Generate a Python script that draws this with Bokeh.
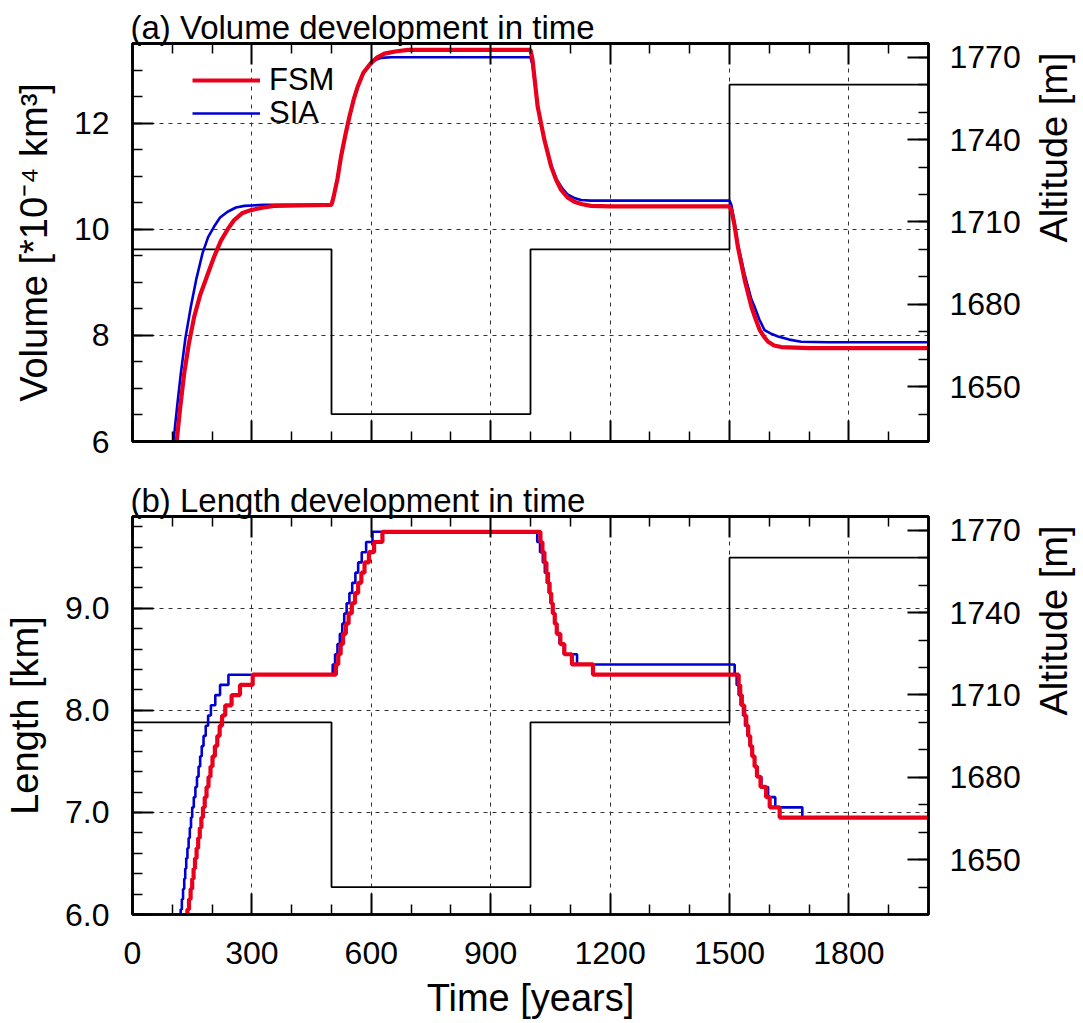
import math
from bokeh.plotting import figure
from bokeh.models import Range1d, LinearAxis, FixedTicker, Legend, LegendItem, NumeralTickFormatter
from bokeh.layouts import column
from bokeh.embed import file_html
from bokeh.resources import INLINE

# ---------------- data ----------------
# prescribed altitude forcing (right axis, m)
alt_time = [0, 500, 1000, 1500, 2000]
alt_value = [1700, 1640, 1700, 1760, 1760]

# (a) volume, *10^-4 km^3
vol_fsm_t = [111, 120, 130, 142, 155, 170, 189, 205, 222, 240, 255, 275, 297, 330, 356, 420, 500,
             505, 515, 524, 535, 545, 556, 566, 580, 599, 615, 633, 660, 692, 750, 1000,
             1005, 1018, 1035, 1052, 1065, 1077, 1093, 1110, 1130, 1152, 1200, 1500,
             1505, 1512, 1521, 1538, 1555, 1566, 1576, 1587, 1597, 1612, 1630, 1700, 2000]
vol_fsm_v = [6.0, 6.65, 7.29, 7.86, 8.35, 8.76, 9.15, 9.48, 9.78, 10.01, 10.17, 10.30, 10.36, 10.41, 10.44, 10.45, 10.46,
             10.6, 10.95, 11.37, 11.78, 12.12, 12.45, 12.69, 12.95, 13.13, 13.24, 13.31, 13.35, 13.38, 13.38, 13.38,
             13.2, 12.31, 11.68, 11.18, 10.92, 10.74, 10.60, 10.52, 10.47, 10.44, 10.43, 10.43,
             10.35, 10.1, 9.67, 9.05, 8.54, 8.30, 8.10, 7.97, 7.88, 7.81, 7.78, 7.76, 7.76]

vol_sia_t = [103, 112, 121.5, 133, 146.6, 160, 176, 190, 205, 220, 239, 260, 281, 330, 500,
             505, 515, 524, 535, 545, 556, 566, 580, 595, 610, 625, 650, 700, 1000,
             1005, 1018, 1035, 1052, 1065, 1080, 1094, 1110, 1127, 1150, 1200, 1500,
             1505, 1512, 1521, 1538, 1555, 1563, 1575, 1588, 1605, 1622, 1650, 1680, 1750, 2000]
vol_sia_v = [6.0, 6.65, 7.29, 7.95, 8.54, 9.05, 9.55, 9.85, 10.05, 10.22, 10.33, 10.41, 10.44, 10.46, 10.46,
             10.6, 10.95, 11.37, 11.78, 12.12, 12.45, 12.69, 12.93, 13.10, 13.19, 13.23, 13.24, 13.24, 13.24,
             13.1, 12.31, 11.68, 11.2, 10.95, 10.77, 10.65, 10.59, 10.55, 10.54, 10.54, 10.54,
             10.45, 10.15, 9.72, 9.15, 8.68, 8.54, 8.30, 8.10, 8.03, 7.98, 7.92, 7.88, 7.87, 7.87]

# (b) length, km  (time at which each length level starts)
len_fsm_t = [134, 138, 142, 146, 150, 153.5, 157, 161, 165, 169, 173, 177, 181.5, 186, 191, 196, 201, 207, 213,
             219, 225, 233, 249, 270, 302, 511, 517, 523, 529, 536, 543, 551, 559, 567, 575, 583, 594, 607, 628,
             1025, 1030, 1035, 1040, 1044, 1048, 1052, 1056, 1061, 1066, 1075, 1085, 1104, 1157,
             1523, 1527, 1531, 1537, 1542, 1547, 1552, 1557, 1563, 1569, 1578, 1592, 1601, 1626, 2000]
len_fsm_v = [5.95, 6.05, 6.15, 6.25, 6.35, 6.45, 6.55, 6.65, 6.75, 6.85, 6.95, 7.05, 7.15, 7.25, 7.35, 7.45, 7.55, 7.65, 7.75,
             7.85, 7.95, 8.05, 8.15, 8.25, 8.35, 8.45, 8.55, 8.65, 8.75, 8.85, 8.95, 9.05, 9.15, 9.25, 9.35, 9.45, 9.55, 9.65, 9.75,
             9.65, 9.55, 9.45, 9.35, 9.25, 9.15, 9.05, 8.95, 8.85, 8.75, 8.65, 8.55, 8.45, 8.35,
             8.25, 8.15, 8.05, 7.95, 7.85, 7.75, 7.65, 7.55, 7.45, 7.35, 7.25, 7.15, 7.05, 6.95, 6.95]

len_sia_t = [117, 121, 124, 127, 130, 132.5, 135, 138, 141, 144, 147, 150, 154, 158, 162, 166, 170, 174, 178.5,
             184, 190, 197, 208, 220, 241, 503, 509, 515, 521, 527, 532, 538, 545, 552, 560, 567, 576, 587, 603,
             1017, 1024, 1031, 1036, 1041, 1046, 1051, 1055, 1060, 1066, 1073, 1084, 1117,
             1513, 1518, 1523, 1528, 1534, 1539, 1545, 1551, 1557, 1563, 1570, 1580, 1597, 1615, 1683, 2000]
len_sia_v = [5.95, 6.05, 6.15, 6.25, 6.35, 6.45, 6.55, 6.65, 6.75, 6.85, 6.95, 7.05, 7.15, 7.25, 7.35, 7.45, 7.55, 7.65, 7.75,
             7.85, 7.95, 8.05, 8.15, 8.25, 8.35, 8.45, 8.55, 8.65, 8.75, 8.85, 8.95, 9.05, 9.15, 9.25, 9.35, 9.45, 9.55, 9.65, 9.75,
             9.65, 9.55, 9.45, 9.35, 9.25, 9.15, 9.05, 8.95, 8.85, 8.75, 8.65, 8.55, 8.45,
             8.35, 8.25, 8.15, 8.05, 7.95, 7.85, 7.75, 7.65, 7.55, 7.45, 7.35, 7.25, 7.15, 7.05, 6.95, 6.95]

x_ticks = [0, 300, 600, 900, 1200, 1500, 1800]
x_minor = [t for t in range(0, 2001, 100) if t not in x_ticks]
alt_ticks = [1650, 1680, 1710, 1740, 1770]
alt_minor = list(range(1630, 1776, 10))
vol_ticks = [6, 8, 10, 12]
vol_minor = [6 + 0.5 * i for i in range(16)]
len_ticks = [6.0, 7.0, 8.0, 9.0]
len_minor = [round(6 + 0.2 * i, 1) for i in range(20)]

FONT = "Liberation Sans"
RED = "#e8001c"
BLUE = "#0000d2"
TICK_FS = "32px"
LABEL_FS = "38px"


def base_axis(ax):
    ax.major_tick_out = 0
    ax.minor_tick_out = 0
    ax.major_tick_line_width = 2
    ax.minor_tick_line_width = 1.5
    ax.major_tick_line_color = "black"
    ax.minor_tick_line_color = "black"
    ax.axis_line_width = 2.5
    ax.axis_line_color = "black"
    ax.major_label_text_font = FONT
    ax.major_label_text_color = "black"
    ax.major_label_text_font_size = TICK_FS
    ax.axis_label_text_font = FONT
    ax.axis_label_text_font_size = LABEL_FS
    ax.axis_label_text_font_style = "normal"
    ax.axis_label_text_color = "black"


def style_axis(ax, ticks, minor):
    base_axis(ax)
    ax.ticker = FixedTicker(ticks=ticks, minor_ticks=minor)
    ax.major_tick_in = 21
    ax.minor_tick_in = 10


def tick_only_axis(ax, ticks, length, width):
    """Axis showing only inward ticks (no labels): ticks given as minor ticks."""
    base_axis(ax)
    ax.ticker = FixedTicker(ticks=[], minor_ticks=ticks)
    ax.major_tick_in = 0
    ax.minor_tick_in = length
    ax.minor_tick_line_width = width
    ax.major_label_standoff = 0


def make_panel(title, y0, y1, yticks, yminor, ylabel, yfmt, xlabels, mb_bottom):
    p = figure(frame_width=796, frame_height=398, x_range=Range1d(0, 2000), y_range=Range1d(y0, y1),
               output_backend="svg", toolbar_location=None,
               min_border_left=132, min_border_right=155, min_border_top=43, min_border_bottom=mb_bottom)
    p.background_fill_color = "white"
    p.border_fill_color = "white"
    p.outline_line_color = "black"
    p.outline_line_width = 2.5

    p.title.text = title
    p.title.text_font = FONT
    p.title.text_font_size = "33px"
    p.title.text_font_style = "normal"
    p.title.text_color = "black"
    p.title.align = "left"
    p.title.standoff = -4
    p.title.offset = -2

    # bottom x axis
    xa = p.xaxis[0]
    if xlabels:
        style_axis(xa, x_ticks, x_minor)
        xa.major_label_standoff = 27
        xa.axis_label = "Time [years]"
        xa.axis_label_standoff = 10
    else:
        tick_only_axis(xa, x_ticks, 21, 2)
        xb = LinearAxis()
        tick_only_axis(xb, x_minor, 10, 1.5)
        p.add_layout(xb, "below")
    # top x axis (ticks only)
    for tks, ln, w in ((x_ticks, 21, 2), (x_minor, 10, 1.5)):
        ta = LinearAxis()
        tick_only_axis(ta, tks, ln, w)
        p.add_layout(ta, "above")

    # left y axis
    ya = p.yaxis[0]
    style_axis(ya, yticks, yminor)
    ya.major_label_standoff = 23
    ya.axis_label = ylabel
    ya.axis_label_standoff = 16
    if yfmt:
        ya.formatter = NumeralTickFormatter(format=yfmt)

    # right altitude axis
    p.extra_y_ranges = {"alt": Range1d(1630, 1775)}
    ra = LinearAxis(y_range_name="alt")
    style_axis(ra, alt_ticks, alt_minor)
    ra.major_label_standoff = 21
    ra.axis_label = "Altitude [m]"
    ra.axis_label_standoff = 30
    try:
        ra.axis_label_orientation = math.pi / 2
    except Exception:
        pass
    p.add_layout(ra, "right")

    # grids
    p.xgrid.ticker = FixedTicker(ticks=x_ticks)
    p.ygrid.ticker = FixedTicker(ticks=yticks)
    for g in (p.xgrid[0], p.ygrid[0]):
        g.grid_line_color = "#333333"
        g.grid_line_width = 1
        g.grid_line_dash = "4 5"

    # altitude forcing
    p.step(alt_time, alt_value, mode="after", line_color="black", line_width=1.8, y_range_name="alt")
    return p


p1 = make_panel("(a) Volume development in time", 6, 13.5, vol_ticks, vol_minor,
                "Volume [*10\u207b\u2074 km\u00b3]", None, False, 32)
r_sia = p1.line(vol_sia_t, vol_sia_v, line_color=BLUE, line_width=2.6)
r_fsm = p1.line(vol_fsm_t, vol_fsm_v, line_color=RED, line_width=4.2)

for lab, r, ly in (("FSM", r_fsm, 343), ("SIA", r_sia, 310)):
    leg = Legend(items=[LegendItem(label=lab, renderers=[r])], location=(60, ly),
                 glyph_width=68, glyph_height=36, label_height=36, label_standoff=9,
                 padding=0, margin=0, spacing=0, border_line_alpha=0, background_fill_alpha=0,
                 label_text_font=FONT, label_text_font_size="31px", label_text_color="black")
    p1.add_layout(leg)

p2 = make_panel("(b) Length development in time", 6.0, 9.9, len_ticks, len_minor,
                "Length [km]", "0.0", True, 100)
p2.step(len_sia_t, len_sia_v, mode="after", line_color=BLUE, line_width=2.6)
p2.step(len_fsm_t, len_fsm_v, mode="after", line_color=RED, line_width=4.2)

layout = column(p1, p2, spacing=0)
open("out.html", "w").write(file_html(layout, INLINE))
